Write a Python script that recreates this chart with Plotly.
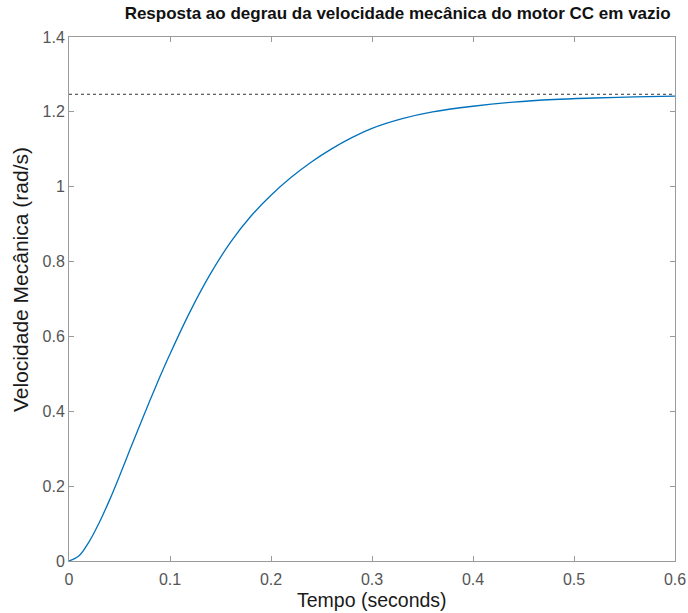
import plotly.graph_objects as go

# Step response of the DC motor mechanical speed (no load)
tempo = [0.00, 0.01, 0.02, 0.03, 0.04, 0.05, 0.06, 0.07, 0.08, 0.09,
         0.10, 0.12, 0.14, 0.16, 0.18, 0.20, 0.22, 0.24, 0.26, 0.28,
         0.30, 0.33, 0.36, 0.40, 0.44, 0.48, 0.52, 0.56, 0.60]
velocidade = [0.000, 0.014, 0.052, 0.103, 0.162, 0.227, 0.295, 0.362, 0.428, 0.492,
              0.553, 0.667, 0.767, 0.852, 0.921, 0.977, 1.025, 1.066, 1.101, 1.131,
              1.156, 1.182, 1.200, 1.215, 1.226, 1.233, 1.237, 1.240, 1.242]
valor_final = 1.247

x_ticks = [0, 0.1, 0.2, 0.3, 0.4, 0.5, 0.6]
y_ticks = [0, 0.2, 0.4, 0.6, 0.8, 1.0, 1.2, 1.4]

FONT = "Arial, Liberation Sans, sans-serif"
AXIS_GRAY = "#9a9a9a"
TICK_GRAY = "#555555"

fig = go.Figure()

# steady-state reference line
fig.add_trace(go.Scatter(
    x=[tempo[0], tempo[-1]], y=[valor_final, valor_final],
    mode="lines", line=dict(color="#333333", width=1, dash="dot"),
    hoverinfo="skip", showlegend=False))

# step response curve
fig.add_trace(go.Scatter(
    x=tempo, y=velocidade, mode="lines",
    line=dict(color="#0072BD", width=1.3, shape="spline", smoothing=1.0),
    showlegend=False))

axis_common = dict(
    showgrid=False, zeroline=False, showline=True, linecolor=AXIS_GRAY,
    linewidth=1, mirror="allticks", ticks="inside", ticklen=5,
    tickcolor=AXIS_GRAY, automargin=False,
    tickfont=dict(family=FONT, size=16, color=TICK_GRAY))

fig.update_layout(
    width=688, height=613,
    margin=dict(l=69, r=13, t=37, b=52),
    paper_bgcolor="white", plot_bgcolor="white",
    font=dict(family=FONT),
    xaxis=dict(range=[0, 0.6], tickvals=x_ticks,
               ticktext=[f"{v:g}" for v in x_ticks],
               ticklabelstandoff=4, **axis_common),
    yaxis=dict(range=[0, 1.4], tickvals=y_ticks,
               ticktext=[f"{v:g}" for v in y_ticks],
               **axis_common),
    title=dict(text="<b>Resposta ao degrau da velocidade mecânica do motor CC em vazio</b>",
               x=0.578, xanchor="center", y=1 - 13 / 613, yanchor="middle",
               font=dict(family=FONT, size=17, color="#111111")),
    annotations=[
        dict(text="Tempo (seconds)", xref="paper", yref="paper",
             x=0.5, y=-39 / 524, xanchor="center", yanchor="middle",
             showarrow=False, font=dict(family=FONT, size=19.5, color="#1a1a1a")),
        dict(text="Velocidade Mecânica (rad/s)", xref="paper", yref="paper",
             x=-49 / 606, y=(561 - 280) / 524, xanchor="center", yanchor="middle",
             textangle=-90, showarrow=False,
             font=dict(family=FONT, size=21, color="#1a1a1a")),
    ],
)

fig.write_html("out.html")
